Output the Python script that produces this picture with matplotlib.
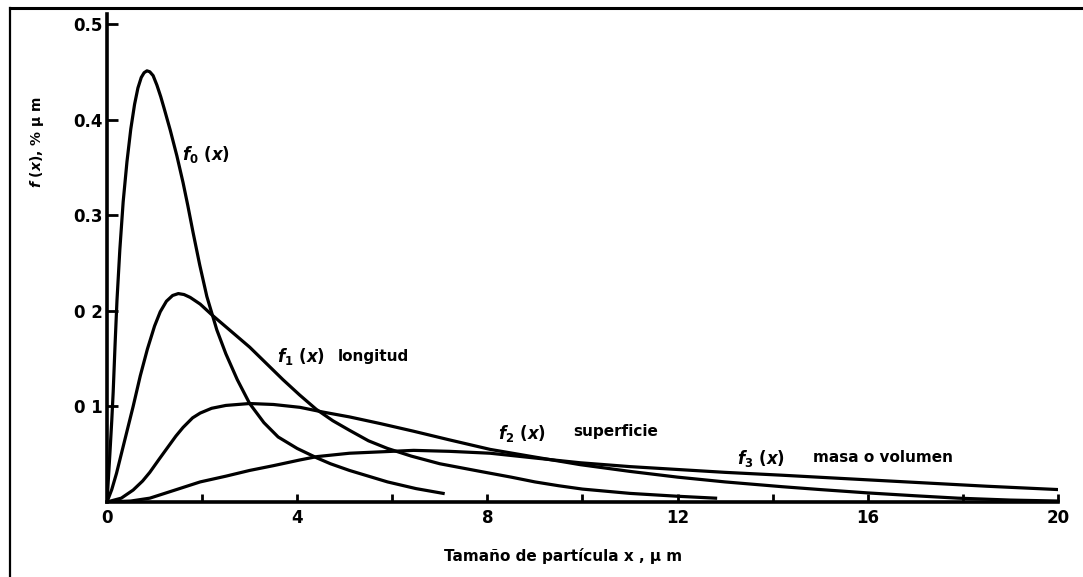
import matplotlib
matplotlib.use('Agg')
import matplotlib.pyplot as plt
from matplotlib.lines import Line2D

# f0: number distribution
f0_x = [0, 0.03, 0.06, 0.1, 0.13, 0.17, 0.21, 0.27, 0.34, 0.42, 0.5, 0.58, 0.65, 0.72, 0.78, 0.84, 0.9,
        0.97, 1.05, 1.13, 1.2, 1.33, 1.47, 1.6, 1.7, 1.81, 1.95, 2.1, 2.31, 2.5, 2.74, 3.0, 3.3, 3.6,
        4.0, 4.42, 4.7, 5.1, 5.5, 5.9, 6.5, 7.07]
f0_y = [0, 0.025, 0.05, 0.085, 0.115, 0.165, 0.211, 0.264, 0.314, 0.356, 0.39, 0.416, 0.433, 0.444,
        0.449, 0.451, 0.450, 0.446, 0.436, 0.424, 0.412, 0.389, 0.362, 0.334, 0.310, 0.282, 0.248,
        0.215, 0.18, 0.155, 0.128, 0.103, 0.083, 0.068, 0.056, 0.046, 0.040, 0.033, 0.027, 0.021,
        0.014, 0.009]

# f1: length distribution
f1_x = [0, 0.1, 0.2, 0.3, 0.4, 0.55, 0.7, 0.85, 1.0, 1.12, 1.25, 1.38, 1.5, 1.62, 1.75, 1.96, 2.2,
        2.6, 3.0, 3.35, 3.7, 4.05, 4.4, 4.75, 5.1, 5.5, 5.9, 6.4, 7.0, 7.85, 8.5, 9.0, 9.5, 10.0,
        11.0, 12.0, 12.8]
f1_y = [0, 0.013, 0.03, 0.05, 0.07, 0.1, 0.132, 0.16, 0.184, 0.199, 0.21, 0.216, 0.218, 0.217, 0.214,
        0.207, 0.196, 0.179, 0.162, 0.145, 0.128, 0.112, 0.097, 0.085, 0.075, 0.064, 0.056, 0.048,
        0.040, 0.032, 0.026, 0.021, 0.017, 0.0135, 0.009, 0.006, 0.004]

# f2: surface distribution
f2_x = [0, 0.3, 0.55, 0.75, 0.9, 1.1, 1.26, 1.45, 1.6, 1.8, 1.96, 2.2, 2.5, 2.75, 3.0, 3.5, 4.06,
        4.55, 5.1, 5.75, 6.45, 7.2, 8.06, 9.0, 9.96, 11.0, 12.0, 13.0, 14.2, 15.0, 16.0, 17.0, 17.9,
        19.0, 20.0]
f2_y = [0, 0.004, 0.0125, 0.022, 0.031, 0.045, 0.056, 0.069, 0.078, 0.088, 0.093, 0.098, 0.101, 0.102,
        0.103, 0.102, 0.099, 0.094, 0.089, 0.082, 0.074, 0.065, 0.055, 0.047, 0.039, 0.032, 0.026,
        0.021, 0.016, 0.013, 0.0095, 0.0065, 0.004, 0.002, 0.001]

# f3: mass / volume distribution
f3_x = [0, 0.5, 0.9, 1.4, 1.96, 2.5, 3.0, 3.5, 4.06, 4.42, 5.1, 6.0, 6.45, 7.2, 8.06, 9.0, 9.96, 11.0,
        12.0, 13.0, 14.2, 15.5, 17.0, 18.5, 20.0]
f3_y = [0, 0.001, 0.004, 0.012, 0.021, 0.027, 0.033, 0.038, 0.044, 0.0475, 0.051, 0.053, 0.054, 0.053,
        0.051, 0.046, 0.041, 0.037, 0.034, 0.031, 0.028, 0.0245, 0.0205, 0.0165, 0.013]

xtick_major = [0, 4, 8, 12, 16, 20]
xtick_minor = [2, 6, 10, 14, 18]
ytick_vals = [0.1, 0.2, 0.3, 0.4, 0.5]
ytick_labels = ['0 1', '0 2', '0.3', '0.4', '0.5']

plt.rcParams['font.family'] = 'DejaVu Sans'
plt.rcParams['font.weight'] = 'bold'
plt.rcParams['mathtext.fontset'] = 'custom'
plt.rcParams['mathtext.it'] = 'DejaVu Sans:italic:bold'
plt.rcParams['mathtext.rm'] = 'DejaVu Sans:bold'
plt.rcParams['mathtext.bf'] = 'DejaVu Sans:bold'

fig = plt.figure(figsize=(10.83, 5.77), dpi=100)
ax = fig.add_axes([0.0988, 0.13, 0.878, 0.845])

for xs, ys in [(f0_x, f0_y), (f1_x, f1_y), (f2_x, f2_y), (f3_x, f3_y)]:
    ax.plot(xs, ys, color='black', lw=2.3, solid_joinstyle='round')

ax.set_xlim(0, 20)
ax.set_ylim(0, 0.51)
for s in ['top', 'right']:
    ax.spines[s].set_visible(False)
for s in ['left', 'bottom']:
    ax.spines[s].set_linewidth(2.6)

ax.set_xticks(xtick_major)
ax.set_xticks(xtick_minor, minor=True)
ax.set_yticks(ytick_vals)
ax.set_yticklabels(ytick_labels)
ax.tick_params(axis='x', which='both', direction='in', length=6, width=2, pad=5, labelsize=12)
ax.tick_params(axis='y', direction='in', length=8, width=2, pad=3, labelsize=12)

ax.set_xlabel('Tamaño de partícula x , µ m', fontsize=11, fontweight='bold')
ax.xaxis.set_label_coords(0.48, -0.094)
ax.set_ylabel(r'$f\ (x)$, % µ m', fontsize=10, fontweight='bold')
ax.yaxis.set_label_coords(-0.064, 0.738)

# curve labels
ax.text(1.58, 0.363, r'$f_0\ (x)$', fontsize=12, ha='left', va='center')
ax.text(3.58, 0.152, r'$f_1\ (x)$', fontsize=12, ha='left', va='center')
ax.text(4.86, 0.152, 'longitud', fontsize=11, ha='left', va='center')
ax.text(8.23, 0.072, r'$f_2\ (x)$', fontsize=12, ha='left', va='center')
ax.text(9.81, 0.074, 'superficie', fontsize=11, ha='left', va='center')
ax.text(13.26, 0.046, r'$f_3\ (x)$', fontsize=12, ha='left', va='center')
ax.text(14.86, 0.047, 'masa o volumen', fontsize=11, ha='left', va='center')

# page frame lines (top and left)
fig.add_artist(Line2D([0.0092, 1.0], [0.986, 0.986], transform=fig.transFigure, color='black', lw=2.2))
fig.add_artist(Line2D([0.0092, 0.0092], [0.0, 0.986], transform=fig.transFigure, color='black', lw=1.6))

fig.savefig('out.png', dpi=100)
